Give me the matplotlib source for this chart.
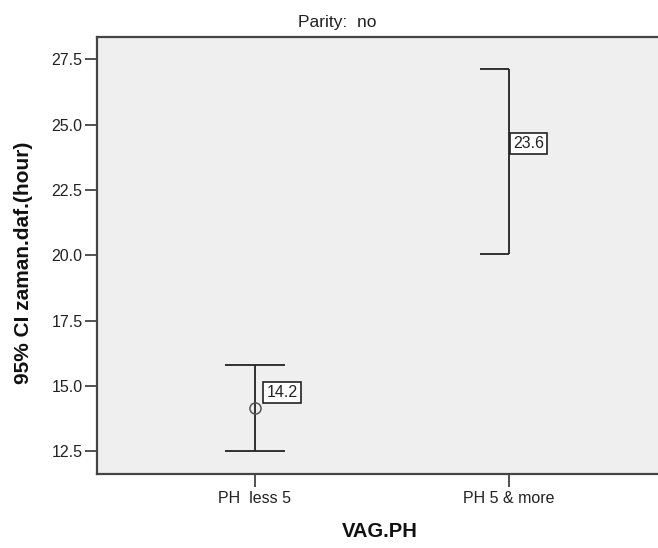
import matplotlib
matplotlib.use("Agg")
import matplotlib.pyplot as plt

categories = ["PH  less 5", "PH 5 & more"]
means = [14.15, 23.6]
lower = [12.5, 20.05]
upper = [15.8, 27.15]
mean_labels = ["14.2", "23.6"]
show_marker = [True, False]
yticks = [12.5, 15.0, 17.5, 20.0, 22.5, 25.0, 27.5]

plt.rcParams['font.family'] = ['Liberation Sans', 'DejaVu Sans']

fig = plt.figure(figsize=(6.58, 5.48), dpi=100)
ax = fig.add_axes([97/658, 1-474/548, 1-97/658, (474-36.5)/548])
ax.set_facecolor('#efefef')

x = list(range(len(categories)))
lc = '#222222'
for i in x:
    ax.vlines(i, lower[i], upper[i], color=lc, lw=1.3)
    if i == 0:
        ax.hlines([lower[i], upper[i]], i - 0.118, i + 0.118, color=lc, lw=1.3)
    else:
        ax.hlines([lower[i], upper[i]], i - 0.114, i, color=lc, lw=1.3)
    if show_marker[i]:
        ax.plot(i, means[i], 'o', ms=8, mfc='none', mec='#555555', mew=1.1)

offsets = [(11.5, 8), (4, 10)]
for i in x:
    ax.annotate(mean_labels[i], (i, means[i]), xytext=offsets[i],
                textcoords='offset pixels', ha='left', va='bottom', fontsize=11.5,
                color='#222222',
                bbox=dict(boxstyle='square,pad=0.2', fc='white', ec='#222222', lw=1.2))

ax.set_xlim(-0.622, 1.587)
ax.set_ylim(11.62, 28.38)
ax.set_xticks(x)
ax.set_xticklabels(categories, fontsize=11.5, color='#222222')
ax.set_yticks(yticks)
ax.set_yticklabels([f"{v:.1f}" for v in yticks], fontsize=11.5, color='#222222')
ax.tick_params(axis='both', direction='out', length=9, width=1.2, color='#333333')
ax.tick_params(axis='y', pad=1.5)
ax.tick_params(axis='x', pad=3)

for s in ['left', 'top', 'bottom']:
    ax.spines[s].set_color('#444444')
    ax.spines[s].set_linewidth(1.6)
ax.spines['right'].set_visible(False)

ax.set_xlabel("VAG.PH", fontsize=14.5, fontweight='bold', color='#111111')
ax.xaxis.set_label_coords((380 - 97) / 561, -(522 - 474) / 437.5)
ax.set_ylabel("95% CI zaman.daf.(hour)", fontsize=15, fontweight='bold', color='#111111')
ax.yaxis.set_label_coords((33 - 97) / 561, 1 - (263 - 36.5) / 437.5)
fig.text(337/658, 1-22/548, "Parity:  no", ha='center', va='center', fontsize=12.5, color='#222222')

fig.savefig("out.png", dpi=100)
